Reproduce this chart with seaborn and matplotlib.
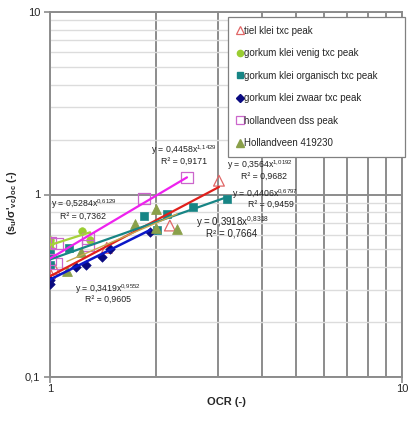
import numpy as np
import pandas as pd
import matplotlib
matplotlib.use("Agg")
import matplotlib.pyplot as plt
import seaborn as sns
from matplotlib.lines import Line2D
from matplotlib.ticker import FixedLocator, NullFormatter, LogLocator

# ---------------- data ----------------
series_names = ["tiel klei txc peak", "gorkum klei venig txc peak",
                "gorkum klei organisch txc peak", "gorkum klei zwaar txc peak",
                "hollandveen dss peak", "Hollandveen 419230"]

tiel_ocr = [1.00, 1.03, 1.45, 2.19, 3.02]
tiel_su = [0.37, 0.39, 0.51, 0.676, 1.19]

venig_ocr = [1.00, 1.00, 1.00, 1.23, 1.30]
venig_su = [0.54, 0.51, 0.56, 0.633, 0.56]

organisch_ocr = [1.00, 1.00, 1.13, 1.85, 2.01, 2.15, 2.55, 3.18]
organisch_su = [0.475, 0.41, 0.506, 0.767, 0.643, 0.777, 0.849, 0.939]

zwaar_ocr = [1.00, 1.00, 1.185, 1.266, 1.405, 1.48, 1.92]
zwaar_su = [0.34, 0.325, 0.40, 0.41, 0.455, 0.50, 0.62]

dss_ocr = [1.00, 1.047, 1.282, 1.282, 1.00, 1.04, 1.85, 2.45]
dss_su = [0.546, 0.539, 0.574, 0.526, 0.44, 0.418, 0.951, 1.239]

hv_ocr = [1.117, 1.225, 1.743, 2.00, 2.00, 2.295]
hv_su = [0.383, 0.487, 0.685, 0.838, 0.659, 0.651]

# power-law trendline coefficients (y = a x^b) and R²
fit_a = [0.3564, 0.5284, 0.4406, 0.3419, 0.4458, 0.3918]
fit_b = [1.0192, 0.6129, 0.6797, 0.9552, 1.1429, 0.8318]
fit_r2 = ["0,9682", "0,7362", "0,9459", "0,9605", "0,9171", "0,7664"]

x_ticks = [1, 10]
x_tick_labels = ["1", "10"]
y_ticks = [0.1, 1, 10]
y_tick_labels = ["0,1", "1", "10"]

# ---------------- styling ----------------
sns.set_theme(style="white")
plt.rcParams["font.family"] = ["Liberation Sans", "DejaVu Sans"]
plt.rcParams["mathtext.fontset"] = "custom"
plt.rcParams["mathtext.rm"] = "Liberation Sans"
plt.rcParams["mathtext.it"] = "Liberation Sans:italic"
plt.rcParams["mathtext.bf"] = "Liberation Sans:bold"

ocr_data = [tiel_ocr, venig_ocr, organisch_ocr, zwaar_ocr, dss_ocr, hv_ocr]
su_data = [tiel_su, venig_su, organisch_su, zwaar_su, dss_su, hv_su]

marker_styles = [
    dict(marker="^", s=60, facecolor="none", edgecolor="#e06666", linewidth=0.9),
    dict(marker="o", s=30, color="#9acd32", edgecolor="#9acd32"),
    dict(marker="s", s=34, color="#178585", edgecolor="#178585"),
    dict(marker="D", s=24, color="#0a0a80", edgecolor="#0a0a80"),
    dict(marker="s", s=65, facecolor="none", edgecolor="#cc66cc", linewidth=0.9),
    dict(marker="^", s=50, color="#8aa04a", edgecolor="#8aa04a"),
]
line_colors = ["#e0201c", "#a6d13a", "#178585", "#0b18c8", "#ee22ee", "#c8a850"]
line_widths = [1.6, 1.6, 1.6, 1.8, 1.6, 1.0]

fig = plt.figure(figsize=(4.18, 4.22), dpi=100)
ax = fig.add_axes([50 / 418, 45 / 422, 352 / 418, 365 / 422])
ax.set_xscale("log")
ax.set_yscale("log")
ax.set_xlim(1, 10)
ax.set_ylim(0.1, 10)

# grid
ax.xaxis.set_major_locator(FixedLocator(x_ticks))
ax.xaxis.set_minor_locator(FixedLocator([2, 3, 4, 5, 6, 7, 8, 9]))
ax.yaxis.set_major_locator(FixedLocator(y_ticks))
ax.yaxis.set_minor_locator(LogLocator(base=10, subs=np.arange(2, 10)))
ax.xaxis.set_minor_formatter(NullFormatter())
ax.yaxis.set_minor_formatter(NullFormatter())
ax.set_xticklabels(x_tick_labels)
ax.set_yticklabels(y_tick_labels)
ax.grid(True, which="major", axis="both", color="#8c8c8c", linewidth=1.4, zorder=0)
ax.grid(True, which="minor", axis="x", color="#8c8c8c", linewidth=1.4, zorder=0)
ax.grid(True, which="minor", axis="y", color="#dcdcdc", linewidth=1.0, zorder=0)
ax.set_axisbelow(True)
for sp in ax.spines.values():
    sp.set_color("#8c8c8c")
    sp.set_linewidth(1.4)
ax.tick_params(axis="both", which="major", length=4, width=1.2, color="#8c8c8c",
               labelsize=8, direction="out", left=True, bottom=True)
ax.tick_params(axis="x", which="major", pad=1)
ax.tick_params(axis="y", which="major", pad=3)
ax.tick_params(axis="both", which="minor", length=0)

# points
for name, xs, ys, st in zip(series_names, ocr_data, su_data, marker_styles):
    df = pd.DataFrame({"OCR": xs, "su": ys})
    sns.scatterplot(data=df, x="OCR", y="su", ax=ax, zorder=3, legend=False, **st)

# trendlines
for xs, a, b, c, lw in zip(ocr_data, fit_a, fit_b, line_colors, line_widths):
    xf = np.geomspace(min(xs), max(xs), 40)
    dff = pd.DataFrame({"OCR": xf, "su": a * xf ** b})
    sns.lineplot(data=dff, x="OCR", y="su", ax=ax, color=c, linewidth=lw,
                 zorder=4, legend=False)

ax.set_xlabel("OCR (-)", fontsize=8, fontweight="bold", labelpad=2)
ax.set_ylabel(r"(s$_\mathbf{u}$/σ'$_\mathbf{vc}$)$_\mathbf{oc}$ (-)",
              fontsize=7.8, fontweight="bold")
ax.yaxis.set_label_coords(-0.088, 0.478)

# equations
def fmt(v):
    return f"{v:.4f}".replace(".", ",")

eq_pos = [  # (x_pixel_center, y_pixel of eq line) in figure px
    (260, 165), (84, 204), (265, 194), (108, 289), (184, 150), (233, 222)]
r2_pos = [(264, 176), (83, 216), (271, 204), (108, 299), (184, 161), (232, 234)]
eq_sizes = [6.3, 6.3, 6.3, 6.3, 6.3, 7.0]
for i in range(6):
    a, b = fit_a[i], fit_b[i]
    txt = "y = " + fmt(a) + "x$^{" + fmt(b).replace(",", "{,}") + "}$"
    fig.text(eq_pos[i][0] / 418, 1 - eq_pos[i][1] / 422, txt, fontsize=eq_sizes[i],
             ha="center", va="center", color="#222222", zorder=6)
    fig.text(r2_pos[i][0] / 418, 1 - r2_pos[i][1] / 422, "R² = " + fit_r2[i],
             fontsize=eq_sizes[i], ha="center", va="center", color="#222222", zorder=6)

# legend
handles = [
    Line2D([], [], linestyle="none", marker="^", markersize=6, markerfacecolor="none",
           markeredgecolor="#e06666", markeredgewidth=0.9),
    Line2D([], [], linestyle="none", marker="o", markersize=4.5, color="#9acd32"),
    Line2D([], [], linestyle="none", marker="s", markersize=5, color="#178585"),
    Line2D([], [], linestyle="none", marker="D", markersize=3.8, color="#0a0a80"),
    Line2D([], [], linestyle="none", marker="s", markersize=6, markerfacecolor="none",
           markeredgecolor="#cc66cc", markeredgewidth=0.9),
    Line2D([], [], linestyle="none", marker="^", markersize=5.5, color="#8aa04a"),
]
leg = fig.legend(handles, series_names, loc="upper left",
                 bbox_to_anchor=(228 / 418, 1 - 153 / 422, 177 / 418, 136 / 422),
                 mode="expand", fontsize=7,
                 frameon=True, fancybox=False, framealpha=1, edgecolor="#808080",
                 handlelength=0.6, handletextpad=0.15, labelspacing=1.28,
                 borderpad=0.9, borderaxespad=0)
leg.get_frame().set_linewidth(0.9)
leg.set_zorder(10)

fig.savefig("out.png", dpi=100, facecolor="white")
